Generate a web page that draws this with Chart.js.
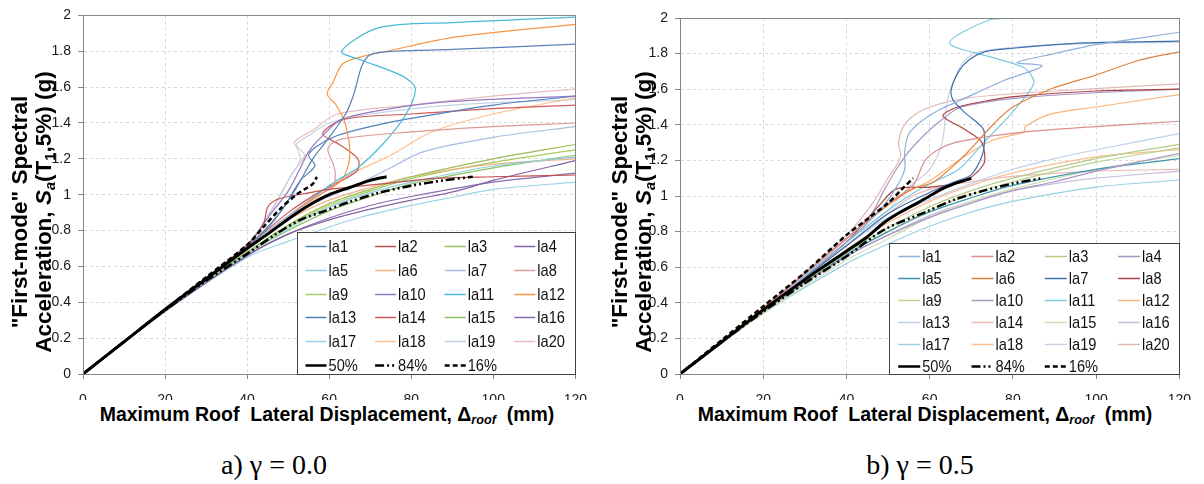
<!DOCTYPE html>
<html>
<head>
<meta charset="utf-8">
<script src="https://cdn.jsdelivr.net/npm/chart.js@4.4.0/dist/chart.umd.min.js"></script>
<style>
body { margin:0; width:1204px; height:484px; background:#fff; position:relative; overflow:hidden; font-family:'Liberation Sans', Arial, sans-serif; }
canvas { position:absolute; top:0; }
#chartA { left:0; }
#chartB { left:600px; }
.ytitle { position:absolute; width:400px; height:48px; text-align:center; font-weight:bold; font-size:22.5px; line-height:24px; transform:rotate(-90deg); white-space:nowrap; color:#000; }
.xtitle { position:absolute; font-weight:bold; font-size:19.5px; white-space:nowrap; transform:translate(-50%,-50%); color:#000; }
.caption { position:absolute; font-family:'Liberation Serif','Times New Roman',serif; font-size:28px; white-space:nowrap; transform:translate(-50%,-50%); color:#000; }
sub { font-size:65%; vertical-align:-0.3em; line-height:0; }
</style>
</head>
<body>
<canvas id="chartA" width="600" height="400"></canvas>
<canvas id="chartB" width="604" height="400"></canvas>

<div class="ytitle" style="left:-168px; top:188px;">"First-mode" Spectral<br>Acceleration, <i>S<sub>a</sub></i>(T<sub>1</sub>,5%) (g)</div>
<div class="ytitle" style="left:432px; top:188px;">"First-mode" Spectral<br>Acceleration, <i>S<sub>a</sub></i>(T<sub>1</sub>,5%) (g)</div>
<div class="xtitle" style="left:327px; top:414px;">Maximum Roof&nbsp; Lateral Displacement, Δ<sub><i>roof</i></sub>&nbsp; (mm)</div>
<div class="xtitle" style="left:925px; top:414px;">Maximum Roof&nbsp; Lateral Displacement, Δ<sub><i>roof</i></sub>&nbsp; (mm)</div>
<div class="caption" style="left:274px; top:465px;">a) γ = 0.0</div>
<div class="caption" style="left:920px; top:465px;">b) γ = 0.5</div>

<script>
// --- nombres, ticks ---
const seriesNames = ['la1','la2','la3','la4','la5','la6','la7','la8','la9','la10',
                     'la11','la12','la13','la14','la15','la16','la17','la18','la19','la20'];
const statNames = ['50%', '84%', '16%'];
const xTickValues = [0, 20, 40, 60, 80, 100, 120];
const yTickValues = [0, 0.2, 0.4, 0.6, 0.8, 1, 1.2, 1.4, 1.6, 1.8, 2];

// --- a) gamma = 0.0 : [desplazamiento mm, Sa g] ---
const aLa1 = [[0,0],[20,0.36],[40,0.71],[46,0.84],[51,1.0],[54,1.12],[56,1.2],[60,1.32],[64,1.45],[66,1.56],[68,1.72],[70,1.78],[76,1.8],[90,1.81],[120,1.84]];
const aLa2 = [[0,0],[20,0.36],[40,0.72],[44,0.84],[45,0.93],[47,0.97],[50,0.99],[55,1.01],[60,1.03],[73,1.06],[85,1.09],[100,1.1],[120,1.11]];
const aLa3 = [[0,0],[20,0.355],[40,0.68],[50,0.83],[60,0.95],[70,1.03],[80,1.1],[100,1.2],[120,1.28]];
const aLa4 = [[0,0],[20,0.35],[40,0.66],[50,0.78],[60,0.86],[70,0.92],[80,0.97],[91,1.02],[100,1.08],[120,1.19]];
const aLa5 = [[0,0],[20,0.35],[40,0.67],[50,0.81],[60,0.93],[70,1.01],[80,1.07],[100,1.16],[120,1.21]];
const aLa6 = [[0,0],[20,0.36],[40,0.7],[50,0.86],[60,0.97],[70,1.04],[80,1.1],[100,1.17],[120,1.2]];
const aLa7 = [[0,0],[20,0.36],[40,0.7],[50,0.88],[60,0.99],[67,1.06],[75,1.15],[83,1.24],[100,1.32],[120,1.38]];
const aLa8 = [[0,0],[20,0.36],[40,0.71],[50,0.88],[56,0.98],[61,1.05],[61.5,1.12],[61,1.17],[59.7,1.26],[63,1.31],[80,1.35],[100,1.38],[120,1.4]];
const aLa9 = [[0,0],[20,0.36],[40,0.68],[50,0.82],[60,0.94],[70,1.02],[80,1.09],[100,1.18],[120,1.25]];
const aLa10 = [[0,0],[20,0.36],[40,0.72],[46,0.9],[50,1.02],[53,1.15],[55,1.24],[58,1.32],[63,1.42],[75,1.48],[90,1.52],[120,1.55]];
const aLa11 = [[0,0],[20,0.36],[40,0.7],[50,0.88],[57,1.0],[62,1.08],[67,1.15],[73,1.28],[78.5,1.44],[81,1.59],[78,1.66],[68,1.75],[63,1.8],[72,1.93],[90,1.96],[120,1.99]];
const aLa12 = [[0,0],[20,0.36],[40,0.71],[50,0.88],[57,0.99],[63,1.08],[65,1.21],[64,1.39],[61.7,1.5],[59.5,1.56],[61,1.63],[63.3,1.73],[68,1.77],[74,1.8],[91,1.88],[120,1.95]];
const aLa13 = [[0,0],[20,0.36],[40,0.71],[48,0.9],[53,1.08],[56.5,1.16],[55,1.22],[57,1.27],[62,1.33],[70,1.38],[78.5,1.42],[100,1.5],[120,1.55]];
const aLa14 = [[0,0],[20,0.36],[40,0.71],[50,0.9],[58,1.02],[64,1.09],[67,1.14],[67,1.2],[62.5,1.28],[58.4,1.34],[63.6,1.42],[80,1.45],[100,1.48],[120,1.5]];
const aLa15 = [[0,0],[20,0.35],[40,0.67],[50,0.8],[60,0.91],[70,0.99],[80,1.06],[100,1.15],[120,1.22]];
const aLa16 = [[0,0],[20,0.35],[40,0.66],[50,0.78],[60,0.87],[70,0.94],[80,0.99],[100,1.07],[120,1.12]];
const aLa17 = [[0,0],[20,0.35],[40,0.65],[50,0.74],[60,0.82],[67,0.87],[80,0.94],[91,0.99],[100,1.03],[120,1.07]];
const aLa18 = [[0,0],[20,0.36],[40,0.7],[50,0.88],[58,1.0],[64,1.1],[75,1.22],[85,1.35],[100,1.45],[120,1.54]];
const aLa19 = [[0,0],[20,0.36],[40,0.72],[46,0.92],[50,1.08],[53,1.2],[52,1.28],[55,1.33],[60,1.4],[70,1.45],[90,1.5],[120,1.53]];
const aLa20 = [[0,0],[20,0.36],[40,0.72],[47,0.95],[51,1.12],[54,1.22],[51.5,1.29],[56,1.36],[62,1.45],[80,1.5],[100,1.55],[120,1.59]];
const aP50 = [[0,0],[10,0.18],[20,0.36],[30,0.53],[40,0.7],[45,0.78],[51,0.88],[55,0.94],[60,1.0],[65,1.04],[70,1.08],[74,1.1]];
const aP84 = [[0,0],[10,0.18],[20,0.355],[30,0.52],[40,0.67],[47,0.78],[53,0.86],[59,0.91],[65,0.96],[72,1.01],[80,1.05],[88,1.08],[95,1.1]];
const aP16 = [[0,0],[10,0.18],[20,0.36],[30,0.54],[40,0.72],[44,0.82],[48,0.92],[52,1.0],[54,1.03],[56,1.06],[57,1.1]];

// --- b) gamma = 0.5 ---
const bLa1 = [[0,0],[20,0.36],[40,0.74],[48,0.92],[52,1.05],[54,1.15],[54,1.25],[55,1.35],[58,1.42],[62,1.48],[67.6,1.54],[78,1.65],[87,1.73],[81,1.75],[90,1.8],[100,1.85],[120,1.92]];
const bLa2 = [[0,0],[20,0.37],[40,0.76],[50,0.96],[56,1.06],[58.9,1.2],[62,1.26],[66,1.3],[73,1.33],[83,1.36],[100,1.39],[120,1.42]];
const bLa3 = [[0,0],[20,0.35],[40,0.68],[50,0.82],[60,0.94],[70,1.03],[80,1.1],[100,1.21],[120,1.29]];
const bLa4 = [[0,0],[20,0.35],[40,0.66],[50,0.78],[60,0.88],[70,0.96],[80,1.03],[90,1.08],[100,1.14],[120,1.24]];
const bLa5 = [[0,0],[20,0.35],[40,0.67],[50,0.8],[60,0.91],[70,0.99],[80,1.06],[100,1.15],[120,1.21]];
const bLa6 = [[0,0],[20,0.37],[40,0.76],[50,0.95],[56,1.04],[61,1.08],[68,1.22],[75.6,1.41],[80,1.5],[89,1.6],[100,1.68],[110,1.76],[120,1.81]];
const bLa7 = [[0,0],[20,0.36],[40,0.72],[50,0.9],[60,1.02],[66,1.08],[70,1.12],[72.5,1.22],[73.2,1.31],[72.8,1.38],[68.4,1.47],[65.6,1.54],[65.2,1.6],[67,1.7],[69.2,1.76],[73.2,1.81],[80,1.83],[97,1.86],[120,1.87]];
const bLa8 = [[0,0],[20,0.36],[40,0.74],[48,0.95],[52,1.04],[60,1.05],[66,1.07],[69.6,1.1],[73,1.18],[73.2,1.24],[72.3,1.31],[68,1.38],[63.2,1.45],[66.8,1.5],[75,1.54],[81,1.56],[100,1.59],[120,1.6]];
const bLa9 = [[0,0],[20,0.35],[40,0.67],[50,0.8],[60,0.92],[70,1.01],[80,1.08],[100,1.19],[120,1.27]];
const bLa10 = [[0,0],[20,0.37],[40,0.76],[46,0.9],[49,1.03],[52,1.15],[55,1.25],[59,1.35],[63,1.43],[67.6,1.5],[81,1.55],[100,1.58],[120,1.6]];
const bLa11 = [[0,0],[20,0.36],[40,0.74],[50,0.92],[57,1.03],[62,1.09],[67,1.15],[73,1.3],[79.5,1.46],[84.3,1.6],[85,1.65],[82.7,1.72],[74.8,1.78],[64.8,1.86],[74.4,1.99],[80,2.0],[100,2.05]];
const bLa12 = [[0,0],[20,0.37],[40,0.76],[50,0.95],[55,1.03],[59.7,1.08],[67.6,1.21],[74.8,1.31],[82.7,1.36],[83,1.39],[89,1.46],[100,1.5],[120,1.57]];
const bLa13 = [[0,0],[20,0.36],[40,0.72],[50,0.88],[60,0.98],[70,1.07],[80,1.15],[90,1.21],[100,1.26],[120,1.35]];
const bLa14 = [[0,0],[20,0.36],[40,0.72],[50,0.9],[56,1.0],[62,1.05],[70,1.08],[80,1.11],[100,1.14],[120,1.15]];
const bLa15 = [[0,0],[20,0.34],[40,0.64],[50,0.76],[60,0.88],[70,0.97],[80,1.04],[100,1.15],[120,1.23]];
const bLa16 = [[0,0],[20,0.35],[40,0.66],[50,0.78],[60,0.89],[70,0.97],[80,1.03],[90,1.07],[100,1.1],[120,1.14]];
const bLa17 = [[0,0],[20,0.34],[40,0.62],[50,0.73],[60,0.83],[70,0.91],[80,0.97],[100,1.05],[120,1.09]];
const bLa18 = [[0,0],[20,0.36],[40,0.7],[50,0.85],[60,0.97],[70,1.06],[80,1.13],[100,1.22],[120,1.26]];
const bLa19 = [[0,0],[20,0.36],[40,0.74],[50,0.92],[55,1.05],[60,1.15],[63,1.3],[64,1.5],[65,1.6],[68,1.75],[72,1.81],[90,1.85],[120,1.865]];
const bLa20 = [[0,0],[20,0.37],[40,0.78],[46,0.95],[50,1.1],[53,1.22],[52.5,1.3],[53.7,1.39],[56,1.45],[60,1.5],[69,1.55],[90,1.59],[120,1.63]];
const bP50 = [[0,0],[10,0.18],[20,0.36],[30,0.53],[40,0.69],[45,0.77],[49,0.85],[53,0.91],[57,0.96],[60,1.0],[63,1.04],[66,1.07],[70,1.1]];
const bP84 = [[0,0],[10,0.18],[20,0.35],[30,0.51],[40,0.66],[49,0.81],[59,0.91],[66,0.98],[73,1.03],[80,1.07],[87,1.1]];
const bP16 = [[0,0],[10,0.19],[20,0.38],[30,0.57],[40,0.78],[45,0.87],[50,0.96],[53,1.03],[56,1.1]];

const curvesA = [aLa1,aLa2,aLa3,aLa4,aLa5,aLa6,aLa7,aLa8,aLa9,aLa10,aLa11,aLa12,aLa13,aLa14,aLa15,aLa16,aLa17,aLa18,aLa19,aLa20];
const statsA = [aP50, aP84, aP16];
const curvesB = [bLa1,bLa2,bLa3,bLa4,bLa5,bLa6,bLa7,bLa8,bLa9,bLa10,bLa11,bLa12,bLa13,bLa14,bLa15,bLa16,bLa17,bLa18,bLa19,bLa20];
const statsB = [bP50, bP84, bP16];

// --- colores ---
const colorsA = ['#5b82b8','#c0504d','#9bbb59','#8064a2','#8fcfe0','#f4b183','#a5bfe0','#dc9a98',
                 '#a6cc5e','#9478c0','#48b8d8','#f79646','#4f81bd','#d05a56','#8fc064','#8a6cb0',
                 '#9dd3e6','#fbbf90','#c3d3ea','#e8bcbc'];
const colorsB = ['#8fb0da','#d9908e','#b5cc85','#a994c6','#3c97ad','#e0823a','#3f6fae','#a84442',
                 '#b9d48a','#a898c8','#7fcadc','#f9b47a','#bcd0ec','#eeb8b6','#cfe0b4','#c8bcdc',
                 '#98d0e2','#f8bf95','#c4d2e4','#e2b8b4'];
const statDash = [[], [9, 3, 2, 3, 2, 3], [5, 3]];

const tickFont = "'Liberation Sans', Arial, sans-serif";

function buildDatasets(curves, stats, colors) {
    const ds = curves.map((pts, i) => ({
        label: seriesNames[i],
        data: pts,
        borderColor: colors[i],
        borderWidth: 1.2,
        pointRadius: 0,
        tension: 0.3,
        fill: false,
        order: 1
    }));
    stats.forEach((pts, i) => ds.push({
        label: statNames[i],
        data: pts,
        borderColor: '#000',
        borderWidth: i === 0 ? 3 : 2.5,
        borderDash: statDash[i],
        pointRadius: 0,
        tension: 0.3,
        fill: false,
        order: 0
    }));
    return ds;
}

// marco del área y leyenda dentro del gráfico
const panelDecor = {
    id: 'panelDecor',
    afterDraw(chart, args, opts) {
        const ctx = chart.ctx;
        const a = chart.chartArea;
        ctx.save();
        ctx.strokeStyle = '#868686';
        ctx.lineWidth = 1;
        ctx.strokeRect(Math.round(a.left) + 0.5, Math.round(a.top) + 0.5,
                       Math.round(a.right - a.left), Math.round(a.bottom - a.top));

        const bx = Math.round(a.right - opts.w) + 0.5;
        const by = Math.round(a.bottom - opts.h) + 0.5;
        ctx.fillStyle = '#fff';
        ctx.fillRect(bx, by, opts.w, opts.h);
        ctx.strokeStyle = '#404040';
        ctx.strokeRect(bx, by, opts.w, opts.h);

        ctx.font = opts.fontSize + 'px ' + tickFont;
        ctx.textBaseline = 'middle';
        ctx.textAlign = 'left';
        chart.data.datasets.forEach((d, i) => {
            const col = i % 4, row = Math.floor(i / 4);
            const x = bx + opts.padLeft + col * opts.colStep;
            const y = Math.round(by + opts.firstRow + row * opts.rowStep) + 0.5;
            ctx.strokeStyle = d.borderColor;
            ctx.lineWidth = d.order === 0 ? 2.5 : 1.5;
            ctx.setLineDash(d.borderDash || []);
            ctx.beginPath();
            ctx.moveTo(x, y);
            ctx.lineTo(x + opts.lineLen, y);
            ctx.stroke();
            ctx.setLineDash([]);
            // texto algo estrecho, como en la figura original
            ctx.save();
            ctx.translate(x + opts.lineLen + 2, y + 1);
            ctx.scale(0.86, 1);
            ctx.fillStyle = '#111';
            ctx.fillText(d.label, 0, 0);
            ctx.restore();
        });
        ctx.restore();
    }
};

function makeOptions(cfg) {
    return {
        responsive: false,
        animation: false,
        devicePixelRatio: 1,
        layout: { padding: { left: 0, right: cfg.padRight, top: cfg.padTop, bottom: 0 } },
        plugins: {
            legend: { display: false },
            tooltip: { enabled: false },
            panelDecor: cfg.legend
        },
        scales: {
            x: {
                type: 'linear', min: 0, max: 120,
                afterBuildTicks: s => { s.ticks = xTickValues.map(v => ({ value: v })); },
                afterFit: s => { s.height = cfg.xAxisH; },
                grid: { color: '#d9d9d9', tickLength: 5, tickColor: '#868686' },
                border: { color: '#868686', dash: [3, 3] },
                ticks: { color: '#1a1a1a', font: { family: tickFont, size: 14 }, padding: 13, maxRotation: 0,
                         callback: v => String(v) }
            },
            y: {
                type: 'linear', min: 0, max: 2,
                afterBuildTicks: s => { s.ticks = yTickValues.map(v => ({ value: v })); },
                afterFit: s => { s.width = cfg.yAxisW; },
                grid: { color: '#d9d9d9', tickLength: 5, tickColor: '#868686' },
                border: { color: '#868686', dash: [3, 3] },
                ticks: { color: '#1a1a1a', font: { family: tickFont, size: 14 }, padding: 7,
                         callback: v => String(v) }
            }
        }
    };
}

new Chart(document.getElementById('chartA'), {
    type: 'line',
    data: { datasets: buildDatasets(curvesA, statsA, colorsA) },
    options: makeOptions({
        padRight: 21, padTop: 9, xAxisH: 26, yAxisW: 83,
        legend: { w: 278, h: 142, padLeft: 8, colStep: 69.6, firstRow: 13.7, rowStep: 23.7, lineLen: 21, fontSize: 17 }
    }),
    plugins: [panelDecor]
});

new Chart(document.getElementById('chartB'), {
    type: 'line',
    data: { datasets: buildDatasets(curvesB, statsB, colorsB) },
    options: makeOptions({
        padRight: 21, padTop: 18, xAxisH: 26, yAxisW: 80,
        legend: { w: 290, h: 131, padLeft: 8.7, colStep: 73.3, firstRow: 12, rowStep: 22.1, lineLen: 22, fontSize: 17 }
    }),
    plugins: [panelDecor]
});
</script>
</body>
</html>
